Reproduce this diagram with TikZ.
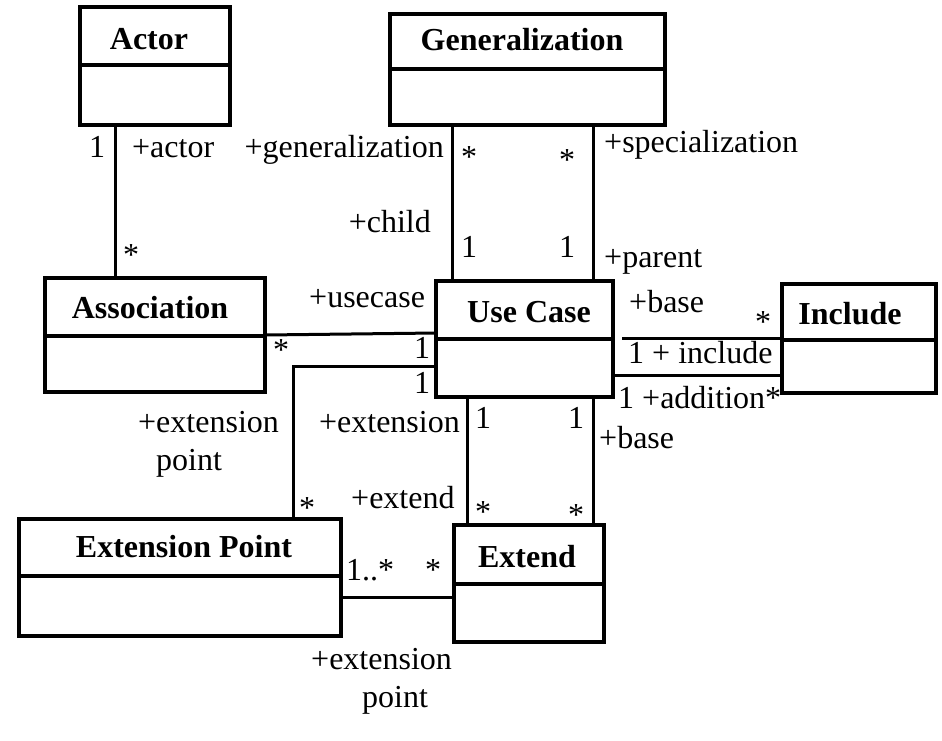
\documentclass[tikz,border=0pt]{standalone}
\usepackage{fontspec}
\setmainfont{Liberation Serif}
\begin{document}
\begin{tikzpicture}[x=1pt,y=-1pt,
  umlbox/.style={draw,line width=4pt,rectangle,inner sep=0pt,outer sep=0pt},
  divider/.style={line width=3.5pt},
  conn/.style={line width=3pt},
  title/.style={font=\bfseries\fontsize{32}{38}\selectfont,anchor=base,inner sep=0pt},
  lbl/.style={font=\fontsize{32}{38}\selectfont,inner sep=0pt}]
\useasboundingbox (0,0) rectangle (942,740);
% boxes
\node[umlbox,minimum width=150pt,minimum height=118pt] (actor) at (155,66) {};
\node[umlbox,minimum width=275pt,minimum height=111pt] (gen) at (527.5,69.5) {};
\node[umlbox,minimum width=220pt,minimum height=114pt] (assoc) at (155,335) {};
\node[umlbox,minimum width=177pt,minimum height=116pt] (uc) at (524.5,339) {};
\node[umlbox,minimum width=154pt,minimum height=109pt] (incl) at (859,338.5) {};
\node[umlbox,minimum width=322pt,minimum height=117pt] (ep) at (180,577.5) {};
\node[umlbox,minimum width=150pt,minimum height=117pt] (ext) at (529,583.5) {};
% dividers
\draw[divider] (actor.west |- 0,65) -- (actor.east |- 0,65);
\draw[divider] (gen.west |- 0,69) -- (gen.east |- 0,69);
\draw[divider] (assoc.west |- 0,336) -- (assoc.east |- 0,336);
\draw[divider] (uc.west |- 0,339) -- (uc.east |- 0,339);
\draw[divider] (incl.west |- 0,340) -- (incl.east |- 0,340);
\draw[divider] (ep.west |- 0,576) -- (ep.east |- 0,576);
\draw[divider] (ext.west |- 0,584) -- (ext.east |- 0,584);
% titles
\node[title] (tactor) at (149,49) {Actor};
\node[title] (tgen) at (522,50) {Generalization};
\node[title] (tassoc) at (150,318) {Association};
\node[title] (tuc) at (529,322) {Use Case};
\node[title] (tincl) at (850,324) {Include};
\node[title] (tep) at (184,557) {Extension Point};
\node[title] (text) at (527,567) {Extend};
% connectors
\coordinate (xa) at (115,0);
\draw[conn] (actor.south -| xa) -- (assoc.north -| xa);
\coordinate (xg1) at (452,0);
\coordinate (xg2) at (593,0);
\draw[conn] (gen.south -| xg1) -- (uc.north -| xg1);
\draw[conn] (gen.south -| xg2) -- (uc.north -| xg2);
\coordinate (ya1) at (0,335);
\coordinate (ya2) at (0,333);
\draw[conn] (assoc.east |- ya1) -- (uc.west |- ya2);
\coordinate (xe) at (293,0);
\coordinate (ye) at (0,366);
\draw[conn] (ep.north -| xe) -- (xe |- ye) -- (uc.west |- ye);
\coordinate (yi1) at (0,338);
\coordinate (yi2) at (0,375);
\draw[conn] (uc.east |- yi1) ++(9,0) -- (incl.west |- yi1);
\draw[conn] (uc.east |- yi2) -- (incl.west |- yi2);
\coordinate (xu1) at (467,0);
\coordinate (xu2) at (593,0);
\draw[conn] (uc.south -| xu1) -- (ext.north -| xu1);
\draw[conn] (uc.south -| xu2) -- (ext.north -| xu2);
\coordinate (yx) at (0,597);
\draw[conn] (ep.east |- yx) -- (ext.west |- yx);
% labels
\node[lbl,anchor=base] (m1) at (97,157) {1};
\node[lbl,anchor=base west] (r1) at (132,157) {+actor};
\node[lbl,anchor=base] (m2) at (131,265) {*};
\node[lbl,anchor=base east] (r2) at (444,157) {+generalization};
\node[lbl,anchor=base] (m3) at (469,167) {*};
\node[lbl,anchor=base] (m4) at (567,170) {*};
\node[lbl,anchor=base west] (r3) at (604,152) {+specialization};
\node[lbl,anchor=base east] (r4) at (431,232) {+child};
\node[lbl,anchor=base] (m5) at (469,257) {1};
\node[lbl,anchor=base] (m6) at (567,257) {1};
\node[lbl,anchor=base west] (r5) at (604,267) {+parent};
\node[lbl,anchor=base west] (r6) at (309,307) {+usecase};
\node[lbl,anchor=base] (m7) at (281,360) {*};
\node[lbl,anchor=base] (m8) at (422,358) {1};
\node[lbl,anchor=base] (m9) at (422,393) {1};
\node[lbl,anchor=base west] (r7) at (629,312) {+base};
\node[lbl,anchor=base] (m10) at (763,332) {*};
\node[lbl,anchor=base west] (r8) at (628,363) {1 + include};
\node[lbl,anchor=base west] (r9) at (618,408) {1 +addition*};
\node[lbl,anchor=base west] (r10) at (138,432) {+extension};
\node[lbl,anchor=base west] (r11) at (156,470) {point};
\node[lbl,anchor=base east] (r12) at (460,432) {+extension};
\node[lbl,anchor=base] (m11) at (483,428) {1};
\node[lbl,anchor=base] (m12) at (576,428) {1};
\node[lbl,anchor=base west] (r13) at (599,448) {+base};
\node[lbl,anchor=base] (m13) at (307,518) {*};
\node[lbl,anchor=base west] (r14) at (351,508) {+extend};
\node[lbl,anchor=base] (m14) at (483,522) {*};
\node[lbl,anchor=base] (m15) at (576,525) {*};
\node[lbl,anchor=base west] (m16) at (346,580) {1..*};
\node[lbl,anchor=base] (m17) at (433,580) {*};
\node[lbl,anchor=base west] (r15) at (311,669) {+extension};
\node[lbl,anchor=base west] (r16) at (362,707) {point};
\end{tikzpicture}
\end{document}
